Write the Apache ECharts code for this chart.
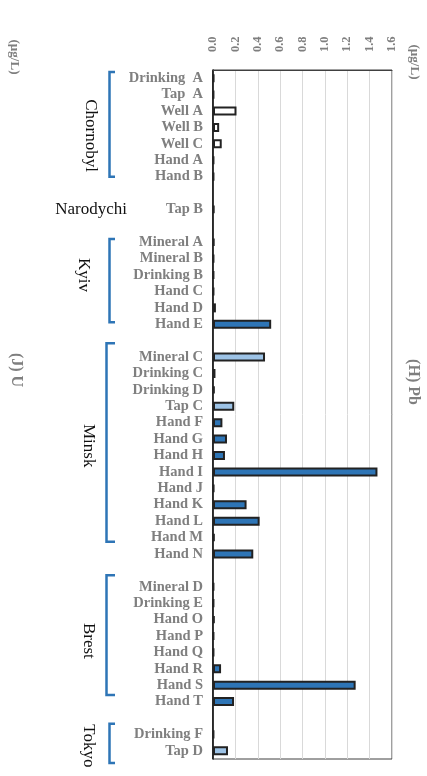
<!DOCTYPE html>
<html>
<head>
<meta charset="utf-8">
<script src="https://cdn.jsdelivr.net/npm/echarts@6/dist/echarts.min.js"></script>
<style>
  html, body { margin: 0; padding: 0; background: #fff; }
  #chart { width: 427px; height: 776px; }
</style>
</head>
<body>
<div id="chart"></div>
<script>
// Sample names, top to bottom; '' rows separate the locations
const categories = [
  'Drinking  A', 'Tap  A', 'Well A', 'Well B', 'Well C', 'Hand A', 'Hand B',
  '',
  'Tap B',
  '',
  'Mineral A', 'Mineral B', 'Drinking B', 'Hand C', 'Hand D', 'Hand E',
  '',
  'Mineral C', 'Drinking C', 'Drinking D', 'Tap C', 'Hand F', 'Hand G', 'Hand H',
  'Hand I', 'Hand J', 'Hand K', 'Hand L', 'Hand M', 'Hand N',
  '',
  'Mineral D', 'Drinking E', 'Hand O', 'Hand P', 'Hand Q', 'Hand R', 'Hand S', 'Hand T',
  '',
  'Drinking F', 'Tap D'
];

// Pb concentration, µg/L
const pbValues = [
  0.01, 0.008, 0.21, 0.055, 0.078, 0.008, 0.008,
  null,
  0.012,
  null,
  0.012, 0.008, 0.008, 0.008, 0.026, 0.52,
  null,
  0.465, 0.022, 0.015, 0.19, 0.084, 0.125, 0.107,
  1.47, 0.01, 0.30, 0.417, 0.015, 0.36,
  null,
  0.008, 0.008, 0.015, 0.008, 0.008, 0.072, 1.275, 0.188,
  null,
  0.008, 0.134
];

// Water source type of each sample
const sourceKinds = [
  'drinking', 'tap', 'well', 'well', 'well', 'hand', 'hand',
  null,
  'tap',
  null,
  'mineral', 'mineral', 'drinking', 'hand', 'hand', 'hand',
  null,
  'mineral', 'drinking', 'drinking', 'tap', 'hand', 'hand', 'hand',
  'hand', 'hand', 'hand', 'hand', 'hand', 'hand',
  null,
  'mineral', 'drinking', 'hand', 'hand', 'hand', 'hand', 'hand', 'hand',
  null,
  'drinking', 'tap'
];

const xTicks = [0, 0.2, 0.4, 0.6, 0.8, 1.0, 1.2, 1.4, 1.6];

// Locations and the rows their brackets span
const groupNames = ['Chornobyl', 'Kyiv', 'Minsk', 'Brest', 'Tokyo'];
const groupFirstRow = [-0.38, 9.8, 16.15, 30.3, 39.35];
const groupLastRow = [6.0, 14.87, 28.26, 37.6, 41.75];
const groupLabelRow = [3.5, 12.0, 22.4, 34.3, 40.7];
const groupLabelX = [90, 83, 88, 88, 88];

const kindColors = {
  well: '#ffffff',
  hand: '#2e75b6',
  drinking: '#2e75b6',
  mineral: '#9dc3e6',
  tap: '#9dc3e6'
};

const SERIF = '"Liberation Serif", "Times New Roman", serif';
const GREY = '#7f7f7f';
const BLUE = '#2e75b6';

const chart = echarts.init(document.getElementById('chart'));

const barData = pbValues.map((v, i) => v === null ? null : {
  value: v,
  itemStyle: { color: kindColors[sourceKinds[i]] }
});

chart.setOption({
  animation: false,
  grid: {
    left: 213, right: 35, top: 70, bottom: 17,
    show: true, borderColor: '#404040', borderWidth: 1, backgroundColor: 'transparent'
  },
  xAxis: {
    type: 'value',
    position: 'top',
    min: xTicks[0],
    max: xTicks[xTicks.length - 1],
    interval: 0.2,
    axisLine: { show: true, lineStyle: { color: '#404040', width: 1 } },
    axisTick: { show: false },
    splitLine: { show: true, lineStyle: { color: '#d9d9d9', width: 1 } },
    axisLabel: {
      rotate: -90,
      margin: 18,
      color: GREY,
      fontFamily: SERIF,
      fontWeight: 'bold',
      fontSize: 12.5,
      formatter: v => v.toFixed(1)
    }
  },
  yAxis: {
    type: 'category',
    inverse: true,
    data: categories,
    axisLine: { show: true, lineStyle: { color: '#000', width: 1.5 } },
    axisTick: { show: false },
    axisLabel: {
      interval: 0,
      margin: 10,
      color: GREY,
      fontFamily: SERIF,
      fontWeight: 'bold',
      fontSize: 14.5
    }
  },
  series: [{
    type: 'bar',
    data: barData,
    barWidth: 9,
    itemStyle: { borderColor: '#222', borderWidth: 2 }
  }]
});

// Location brackets and labels placed from the category axis
const c0 = chart.convertToPixel({ yAxisIndex: 0 }, 0);
const c1 = chart.convertToPixel({ yAxisIndex: 0 }, 1);
const step = c1 - c0;
const rowY = r => c0 + r * step;

const elements = [];
groupNames.forEach((name, g) => {
  const yTop = rowY(groupFirstRow[g]);
  const yBot = rowY(groupLastRow[g]);
  const xv = name === 'Minsk' || name === 'Brest' ? 106.5 : 109.5;
  elements.push({
    type: 'polyline',
    shape: { points: [[115, yTop], [xv, yTop], [xv, yBot], [115, yBot]] },
    style: { stroke: BLUE, lineWidth: 2.5, fill: null }
  });
  elements.push({
    type: 'text',
    x: groupLabelX[g],
    y: rowY(groupLabelRow[g]),
    rotation: -Math.PI / 2,
    style: {
      text: name,
      fill: '#111',
      font: '17px ' + SERIF,
      align: 'center',
      verticalAlign: 'middle'
    }
  });
});

// Narodychi has a single sample, labelled without a bracket
elements.push({
  type: 'text',
  x: 127,
  y: rowY(categories.indexOf('Tap B')),
  style: {
    text: 'Narodychi',
    fill: '#111',
    font: '17px ' + SERIF,
    align: 'right',
    verticalAlign: 'middle'
  }
});

// Panel titles and units
const sideTexts = [
  { text: '(H) Pb', x: 413, y: 382, size: 16 },
  { text: '(J) U', x: 16, y: 370, size: 16 },
  { text: '(µg/L)', x: 414, y: 62, size: 13 },
  { text: '(µg/L)', x: 14, y: 57, size: 13 }
];
sideTexts.forEach(t => {
  elements.push({
    type: 'text',
    x: t.x,
    y: t.y,
    rotation: -Math.PI / 2,
    style: {
      text: t.text,
      fill: GREY,
      font: 'bold ' + t.size + 'px ' + SERIF,
      align: 'center',
      verticalAlign: 'middle'
    }
  });
});

chart.setOption({ graphic: { elements } });
</script>
</body>
</html>
